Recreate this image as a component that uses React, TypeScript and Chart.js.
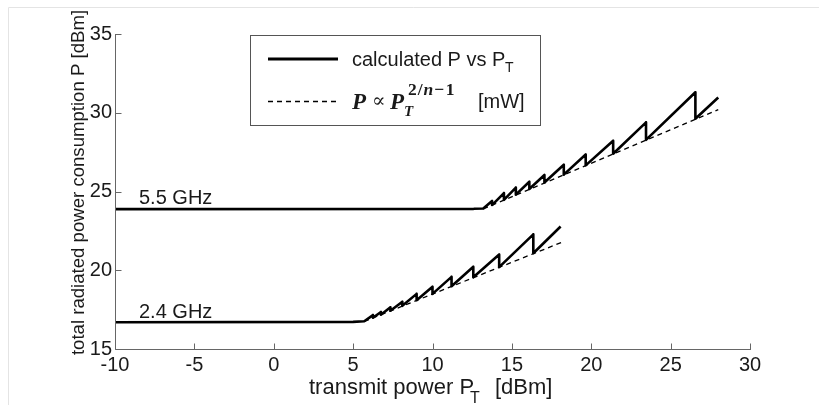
import React, { useEffect, useRef } from "react";
import { Chart, registerables } from "chart.js";

Chart.register(...registerables);

// ---- data ----
const xTicks = [-10, -5, 0, 5, 10, 15, 20, 25, 30];
const yTicks = [15, 20, 25, 30, 35];

// 5.5 GHz calculated P vs PT
const x55 = [-10, 12.6, 13.2,
  13.75, 13.75, 14.5, 14.5, 15.25, 15.25, 16.1, 16.1, 17.05, 17.05, 18.27, 18.27, 19.65, 19.65, 21.38, 21.38, 23.45, 23.45, 26.56, 26.56, 28];
const y55 = [23.88, 23.9, 23.92,
  24.4, 24.14, 24.9, 24.47, 25.25, 24.8, 25.62, 25.16, 26.05, 25.57, 26.7, 26.07, 27.35, 26.66, 28.22, 27.4, 29.39, 28.28, 31.3, 29.62, 30.97];
// 5.5 GHz fit P ∝ PT^(2/n-1)
const x55fit = [13.2, 28];
const y55fit = [23.9, 30.2];

// 2.4 GHz calculated P vs PT
const x24 = [-10, 5.0, 5.7,
  6.25, 6.25, 6.75, 6.75, 7.35, 7.35, 8.1, 8.1, 9.0, 9.0, 10.0, 10.0, 11.2, 11.2, 12.57, 12.57, 14.2, 14.2, 16.35, 16.35, 18.07];
const y24 = [16.7, 16.72, 16.76,
  17.15, 16.98, 17.35, 17.18, 17.65, 17.43, 18.0, 17.74, 18.5, 18.1, 18.95, 18.5, 19.58, 18.99, 20.22, 19.55, 21.0, 20.2, 22.28, 21.08, 22.78];
const x24fit = [5.7, 18.13];
const y24fit = [16.75, 21.77];

const toPts = (xs: number[], ys: number[]) => xs.map((x, i) => ({ x, y: ys[i] }));

const SANS = "'Liberation Sans', Arial, sans-serif";
const SERIF = "'Liberation Serif', 'DejaVu Serif', serif";
const TEXT = "#1a1a1a";

const decor = {
  id: "decor",
  afterDraw(chart: any) {
    const { ctx, chartArea } = chart;
    const xs = chart.scales.x;
    const ys = chart.scales.y;
    ctx.save();
    // faint outer frame
    ctx.strokeStyle = "#e4e4e4";
    ctx.lineWidth = 1;
    ctx.beginPath();
    ctx.moveTo(8.5, 405);
    ctx.lineTo(8.5, 7.5);
    ctx.lineTo(819, 7.5);
    ctx.stroke();

    // axes (left + bottom only)
    const bx = Math.round(chartArea.left) + 0.5;
    const by = Math.round(chartArea.bottom) + 0.5;
    ctx.strokeStyle = "#666";
    ctx.lineWidth = 1;
    ctx.beginPath();
    ctx.moveTo(bx, Math.round(chartArea.top));
    ctx.lineTo(bx, by);
    ctx.lineTo(Math.round(chartArea.right) + 1, by);
    ctx.stroke();
    // inward ticks
    ctx.beginPath();
    xTicks.forEach((v) => {
      const px = Math.round(xs.getPixelForValue(v)) + 0.5;
      ctx.moveTo(px, by);
      ctx.lineTo(px, by - 6);
    });
    yTicks.forEach((v) => {
      const py = Math.round(ys.getPixelForValue(v)) + 0.5;
      ctx.moveTo(bx, py);
      ctx.lineTo(bx + 6, py);
    });
    ctx.stroke();

    ctx.fillStyle = TEXT;
    ctx.textBaseline = "alphabetic";
    ctx.textAlign = "left";
    // curve labels
    ctx.font = `20px ${SANS}`;
    ctx.fillText("5.5 GHz", 139, 204);
    ctx.fillText("2.4 GHz", 139, 318);

    // x title
    ctx.font = `22px ${SANS}`;
    ctx.fillText("transmit power P", 309, 394);
    ctx.font = `16px ${SANS}`;
    ctx.fillText("T", 470, 403);
    ctx.font = `22px ${SANS}`;
    ctx.fillText("[dBm]", 495, 394);

    // y title
    ctx.save();
    ctx.translate(84, 182.5);
    ctx.rotate(-Math.PI / 2);
    ctx.textAlign = "center";
    ctx.font = `18.6px ${SANS}`;
    ctx.fillText("total radiated power consumption P [dBm]", 0, 0);
    ctx.restore();

    // legend
    ctx.strokeStyle = "#555";
    ctx.lineWidth = 1;
    ctx.strokeRect(250.5, 35.5, 290, 90);
    ctx.strokeStyle = "#000";
    ctx.lineWidth = 3;
    ctx.beginPath();
    ctx.moveTo(268, 59);
    ctx.lineTo(338, 59);
    ctx.stroke();
    ctx.lineWidth = 1.3;
    ctx.setLineDash([5, 4]);
    ctx.beginPath();
    ctx.moveTo(268, 101.5);
    ctx.lineTo(340, 101.5);
    ctx.stroke();
    ctx.setLineDash([]);

    ctx.font = `20px ${SANS}`;
    ctx.fillText("calculated P vs P", 352, 66);
    ctx.font = `14px ${SANS}`;
    ctx.fillText("T", 505, 72);

    ctx.font = `bold italic 23px ${SERIF}`;
    ctx.fillText("P", 352, 109);
    ctx.font = `20px ${SERIF}`;
    ctx.fillText("\u221D", 372, 107);
    ctx.font = `bold italic 23px ${SERIF}`;
    ctx.fillText("P", 390, 109);
    ctx.font = `bold italic 15px ${SERIF}`;
    ctx.fillText("T", 404, 116);
    // superscript 2/n−1
    let sx = 408;
    const sy = 95;
    const parts: [string, string][] = [
      ["2", "bold"], ["/", "bold"], ["n", "bold italic"], ["\u2212", "bold"], ["1", "bold"],
    ];
    parts.forEach(([t, st]) => {
      ctx.font = `${st} 17.5px ${SERIF}`;
      ctx.fillText(t, sx, sy);
      sx += ctx.measureText(t).width + (t === "\u2212" ? 1.5 : 1);
    });
    ctx.font = `20px ${SANS}`;
    ctx.fillText("[mW]", 478, 108);
    ctx.restore();
  },
};

export default function App() {
  const ref = useRef<HTMLCanvasElement | null>(null);
  useEffect(() => {
    if (!ref.current) return;
    const solid = { showLine: true, borderColor: "#000", borderWidth: 2.6, pointRadius: 0, order: 1, tension: 0, borderJoinStyle: "round" as const };
    const dashed = { showLine: true, borderColor: "#000", borderWidth: 1.3, borderDash: [5, 4], pointRadius: 0, order: 2 };
    const chart = new Chart(ref.current, {
      type: "scatter",
      data: {
        datasets: [
          { ...solid, data: toPts(x55, y55) },
          { ...solid, data: toPts(x24, y24) },
          { ...dashed, data: toPts(x55fit, y55fit) },
          { ...dashed, data: toPts(x24fit, y24fit) },
        ],
      },
      options: {
        responsive: false,
        animation: false,
        devicePixelRatio: 1,
        layout: { padding: { left: 0, top: 34, right: 69, bottom: 0 } },
        plugins: { legend: { display: false }, tooltip: { enabled: false } },
        scales: {
          x: {
            type: "linear",
            min: -10,
            max: 30,
            grid: { display: false, drawTicks: false },
            border: { display: false },
            afterFit: (s: any) => { s.height = 56; },
            afterBuildTicks: (s: any) => { s.ticks = xTicks.map((v) => ({ value: v })); },
            ticks: { font: { family: SANS, size: 20 }, color: TEXT, padding: 4, maxRotation: 0, autoSkip: false },
          },
          y: {
            type: "linear",
            min: 15,
            max: 35,
            grid: { display: false, drawTicks: false },
            border: { display: false },
            afterFit: (s: any) => { s.width = 115; },
            afterBuildTicks: (s: any) => { s.ticks = yTicks.map((v) => ({ value: v })); },
            ticks: { font: { family: SANS, size: 20 }, color: TEXT, padding: 3, autoSkip: false },
          },
        },
      },
      plugins: [decor],
    });
    return () => chart.destroy();
  }, []);
  return (
    <div style={{ position: "fixed", left: 0, top: 0, width: 819, height: 405, background: "#fff" }}>
      <canvas ref={ref} width={819} height={405} style={{ width: 819, height: 405, display: "block" }} />
    </div>
  );
}
